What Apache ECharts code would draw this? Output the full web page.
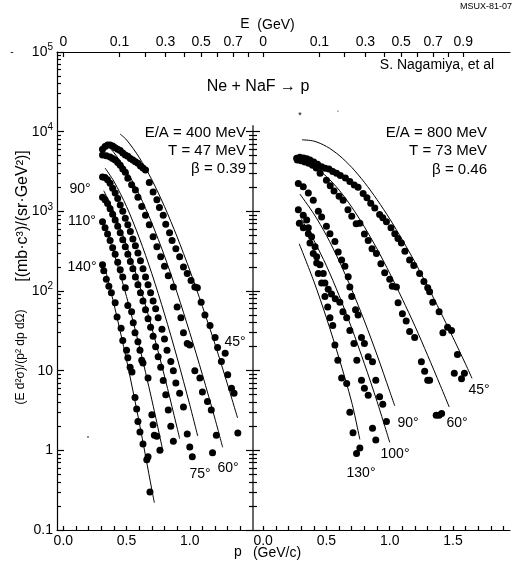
<!DOCTYPE html>
<html><head><meta charset="utf-8">
<script src="https://cdn.jsdelivr.net/npm/echarts@6/dist/echarts.min.js"></script>
<style>html,body{margin:0;padding:0;background:#fff}#c{width:512px;height:564px}</style>
</head><body><div id="c"></div>
<script>
// ---- data: [p (GeV/c), E d2sigma/(p2 dp dOmega)] ----
const left45 = [[0.31,6000],[0.33,6500],[0.35,6800],[0.37,6800],[0.39,6600],[0.41,6300],[0.43,6000],[0.45,5800],[0.47,5400],[0.49,5100],[0.51,4900],[0.53,4600],[0.55,4400],[0.57,4200],[0.59,4000],[0.61,3700],[0.63,3500],[0.65,3300],[0.68,2300],[0.71,1750],[0.74,1400],[0.76,1120],[0.79,890],[0.81,690],[0.84,540],[0.86,430],[0.89,340],[0.92,270],[0.95,200],[0.98,166],[1.01,135],[1.04,112],[1.06,110],[1.09,72],[1.12,50],[1.16,37],[1.2,26],[1.22,19.5],[1.25,13],[1.28,16.5],[1.3,8.9],[1.33,6.0],[1.35,5.2],[1.38,1.65]];
const left60 = [[0.31,5100],[0.34,5000],[0.37,4800],[0.39,4600],[0.41,4400],[0.43,4100],[0.45,3800],[0.47,3400],[0.49,3100],[0.51,2600],[0.54,2150],[0.57,1850],[0.59,1500],[0.62,1150],[0.65,890],[0.68,680],[0.71,480],[0.74,360],[0.77,270],[0.80,205],[0.83,155],[0.87,112],[0.90,63],[0.93,46],[0.95,30],[0.98,22],[1.0,21],[1.04,10],[1.08,8.1],[1.10,5.4],[1.14,4.1],[1.17,3.2],[1.21,1.55],[1.18,0.93]];
const left75 = [[0.31,2700],[0.33,2650],[0.35,2500],[0.37,2250],[0.39,1950],[0.41,1700],[0.43,1450],[0.45,1200],[0.47,1000],[0.49,820],[0.51,680],[0.53,560],[0.55,450],[0.57,370],[0.59,300],[0.61,240],[0.63,190],[0.65,150],[0.67,120],[0.69,95],[0.71,75],[0.73,60],[0.75,46],[0.78,33],[0.80,25],[0.82,18],[0.85,13],[0.87,10],[0.89,7],[0.92,5.2],[0.95,3.5],[0.98,1.6],[1.0,1.1],[1.02,0.83]];
const left90 = [[0.31,1500],[0.33,1400],[0.35,1250],[0.37,1080],[0.39,920],[0.41,780],[0.43,650],[0.45,540],[0.47,440],[0.49,360],[0.51,290],[0.53,235],[0.55,190],[0.57,150],[0.59,120],[0.61,95],[0.63,75],[0.65,58],[0.67,45],[0.69,35],[0.71,27],[0.73,20],[0.75,15],[0.77,11],[0.79,7.5],[0.81,5],[0.83,3.2],[0.85,2.0],[0.87,1.3]];
const left110 = [[0.31,740],[0.33,620],[0.35,520],[0.37,430],[0.39,350],[0.41,290],[0.43,230],[0.45,185],[0.47,150],[0.49,110],[0.51,66],[0.54,55],[0.553,40],[0.567,30],[0.59,23],[0.606,18],[0.62,13.5],[0.63,12.5],[0.67,8.1],[0.70,2.8],[0.71,2.1],[0.72,1.55],[0.74,1.5],[0.764,1.0]];
const left140 = [[0.31,214],[0.32,180],[0.34,140],[0.36,115],[0.38,95],[0.41,71],[0.425,47],[0.457,34],[0.47,24],[0.5,18],[0.51,14.5],[0.528,11],[0.543,9.6],[0.567,4.6],[0.58,3.3],[0.59,2.3],[0.606,1.7],[0.63,1.2],[0.66,0.76],[0.67,0.83],[0.685,0.30]];
const right45 = [[0.265,4630],[0.29,4790],[0.32,4680],[0.345,4570],[0.37,4400],[0.40,4170],[0.43,3890],[0.462,3630],[0.49,3470],[0.52,3390],[0.55,3160],[0.58,3000],[0.61,2820],[0.65,2630],[0.685,2360],[0.72,2140],[0.75,2000],[0.79,1680],[0.82,1480],[0.85,1260],[0.882,1100],[0.92,910],[0.945,830],[0.974,740],[1.01,620],[1.04,525],[1.065,457],[1.092,400],[1.12,316],[1.157,245],[1.19,209],[1.236,166],[1.27,132],[1.30,110],[1.315,98],[1.34,72],[1.39,55],[1.42,30],[1.457,35],[1.488,32],[1.535,16],[1.51,9.3],[1.59,9.3],[1.567,7.9]];
const right60 = [[0.27,4400],[0.30,4300],[0.33,4150],[0.36,4000],[0.39,3800],[0.42,3500],[0.45,3000],[0.50,2450],[0.53,2100],[0.56,1800],[0.60,1550],[0.632,1380],[0.67,1050],[0.70,870],[0.735,700],[0.764,710],[0.80,520],[0.83,430],[0.86,340],[0.895,295],[0.93,220],[0.96,170],[1.00,140],[1.02,115],[1.053,112],[1.066,71],[1.10,52],[1.13,42],[1.157,31],[1.197,26],[1.25,12.9],[1.276,9.8],[1.30,7.6],[1.315,7.6],[1.367,2.75],[1.39,2.75],[1.41,2.9]];
const right90 = [[0.278,2240],[0.317,2040],[0.357,1700],[0.396,1380],[0.436,1000],[0.462,850],[0.50,650],[0.528,525],[0.567,417],[0.593,309],[0.62,245],[0.646,204],[0.672,151],[0.685,112],[0.70,85],[0.73,58],[0.75,50],[0.777,26],[0.80,22],[0.83,15],[0.864,12.9],[0.89,7.6],[0.92,4.7],[0.945,3.8],[0.974,2.3]];
const right100 = [[0.278,1050],[0.317,890],[0.344,780],[0.357,620],[0.383,480],[0.41,360],[0.423,270],[0.449,214],[0.475,166],[0.488,126],[0.514,105],[0.54,92],[0.57,80],[0.606,72],[0.63,55],[0.66,46],[0.685,32],[0.717,22],[0.74,13.5],[0.777,7.6],[0.80,6.0],[0.83,4.9],[0.864,1.9],[0.89,1.35]];
const right130 = [[0.286,710],[0.317,620],[0.357,525],[0.37,400],[0.396,295],[0.423,224],[0.436,166],[0.462,126],[0.488,85],[0.51,63],[0.528,46],[0.55,37],[0.567,21],[0.59,13.5],[0.62,8.1],[0.66,6.9],[0.685,3.0],[0.71,1.66],[0.738,0.91],[0.764,1.07]];
// thermal-fit curves (estimated from the figure)
const fitL45 = [[0.449,9340],[0.5,7890],[0.6,4750],[0.7,2490],[0.8,1150],[0.9,478],[1.0,182],[1.1,64],[1.2,21.4],[1.3,6.6],[1.378,2.55]];
const fitL60 = [[0.37,6170],[0.4,5460],[0.5,3240],[0.6,1630],[0.7,711],[0.8,275],[0.9,95],[1.0,30],[1.1,8.9],[1.2,2.47],[1.26,1.09]];
const fitL75 = [[0.33,3500],[0.4,2380],[0.5,1150],[0.6,467],[0.7,165],[0.8,51.5],[0.9,14.5],[1.0,3.72],[1.063,1.51]];
const fitL90 = [[0.32,1815],[0.4,975],[0.5,374],[0.6,122],[0.7,34.4],[0.8,8.55],[0.9,1.91],[0.92,1.4]];
const fitL110 = [[0.32,706],[0.4,299],[0.5,85],[0.6,20.6],[0.7,4.3],[0.787,0.99]];
const fitL140 = [[0.33,192],[0.4,69],[0.5,13.6],[0.6,2.25],[0.7,0.32],[0.72,0.22]];
const fitR45 = [[0.307,7900],[0.4,7620],[0.5,6530],[0.6,5050],[0.7,3560],[0.8,2310],[0.9,1400],[1.0,804],[1.1,437],[1.2,229],[1.3,114],[1.4,55],[1.5,26],[1.6,12],[1.65,8.0]];
const fitR60 = [[0.4,3660],[0.5,2740],[0.6,1850],[0.7,1130],[0.8,638],[0.9,337],[1.0,167],[1.1,79],[1.2,36],[1.3,15.5],[1.4,6.5],[1.47,3.5]];
const fitR90 = [[0.29,1650],[0.4,931],[0.5,499],[0.6,239],[0.7,104],[0.8,42],[0.9,15.7],[1.0,5.5],[1.04,3.6]];
const fitR100 = [[0.3,809],[0.4,435],[0.5,207],[0.6,88],[0.7,34],[0.8,12.2],[0.9,4.1],[1.0,1.26]];
const fitR130 = [[0.285,392],[0.4,133],[0.5,46],[0.6,14.3],[0.7,4.0],[0.764,1.37]];
// axis tick labels
const yDecades = [0.1,1,10,100,1000,10000,100000];
const pLabelsL = [0,0.5,1.0];
const pLabelsR = [0,0.5,1.0,1.5];
const eLabelsL = [0,0.1,0.3,0.5,0.7];
const eLabelsR = [0,0.1,0.3,0.5,0.7,0.9];
const eTicks = [0,0.1,0.2,0.3,0.4,0.5,0.6,0.7,0.8,0.9];
const dividerTop = 12000;

const M = 0.938;
const pOfE = E => Math.sqrt((E+M)*(E+M)-M*M);
const eOfP = p => Math.sqrt(p*p+M*M)-M;
const FONT = 'Liberation Sans';
const minorY = [];
yDecades.slice(0,-1).forEach(d => { for (let k=2;k<=9;k++) minorY.push(d*k); });
const steps = (a,b,s) => { const r=[]; for (let v=a; v<=b+1e-9; v+=s) r.push(+v.toFixed(3)); return r; };

const chart = echarts.init(document.getElementById('c'), null, {renderer:'canvas'});
const lineC = {color:'#000', width:1.2};
const L = {xmin:-0.05, xmax:1.5}, R = {xmin:-0.08, xmax:1.95};

function xBottom(grid, r, labels, ticks) {
  return {type:'value', gridIndex:grid, position:'bottom', min:r.xmin, max:r.xmax,
    axisLine:{show:true, onZero:false, lineStyle:lineC}, splitLine:{show:false},
    axisTick:{show:true, inside:true, length:4, lineStyle:lineC, customValues:ticks},
    axisLabel:{customValues:labels, formatter:v=>v.toFixed(1), color:'#000', fontSize:14, fontFamily:FONT, margin:4}};
}
function xTop(grid, r, labels, ticks) {
  return {type:'value', gridIndex:grid, position:'top', min:r.xmin, max:r.xmax,
    axisLine:{show:true, onZero:false, lineStyle:lineC}, splitLine:{show:false},
    axisTick:{show:true, inside:true, length:5, lineStyle:lineC, customValues:ticks.map(pOfE)},
    axisLabel:{customValues:labels.map(pOfE), formatter:v=>{const e=eOfP(v); return e<0.01?'0':e.toFixed(1);}, color:'#000', fontSize:14, fontFamily:FONT, margin:3}};
}
function yAx(grid, pos, major, labels, showLine, maxTick) {
  const lim = maxTick || 1e9;
  return {type:'log', logBase:10, gridIndex:grid, position:pos, min:0.1, max:100000,
    axisLine:{show:showLine, onZero:false, lineStyle:lineC}, splitLine:{show:false},
    axisTick:{show:true, inside:true, length:major?7:4, lineStyle:lineC, customValues:(major?yDecades:minorY).filter(v=>v<=lim)},
    axisLabel:labels ? {customValues:yDecades, color:'#000', fontFamily:FONT, margin:4,
      formatter:v=>{const e=Math.round(Math.log10(v)); if(e>=2) return '{b|10}{s|'+e+'}'; if(e===1) return '{b|10}'; if(e===0) return '{b|1}'; return '{b|0.1}';},
      rich:{b:{fontSize:14, fontFamily:FONT, color:'#000'}, s:{fontSize:10, fontFamily:FONT, color:'#000', padding:[0,0,9,0]}}} : {show:false}};
}
function pts(data, xi, yi) {
  return {type:'scatter', data, xAxisIndex:xi, yAxisIndex:yi, symbol:'circle', symbolSize:7,
    itemStyle:{color:'#000', opacity:1}, silent:true, z:3};
}
function fit(data, xi, yi) {
  return {type:'line', data, xAxisIndex:xi, yAxisIndex:yi, smooth:0.3, showSymbol:false,
    lineStyle:{color:'#000', width:1}, silent:true, z:2};
}
function txt(text, x, y, opt) {
  return {type:'text', x, y, style:Object.assign({text, fill:'#000', font:'14px "'+FONT+'"', textAlign:'center', textVerticalAlign:'middle'}, opt||{})};
}

chart.setOption({
  animation:false,
  backgroundColor:'#fff',
  grid:[{left:57, top:52, width:196, height:478}, {left:253, top:52, width:257, height:478}],
  xAxis:[xBottom(0,L,pLabelsL,steps(0,1.4,0.1)), xBottom(1,R,pLabelsR,steps(0,1.9,0.1)),
         xTop(0,L,eLabelsL,eTicks.filter(e=>pOfE(e)<L.xmax)), xTop(1,R,eLabelsR,eTicks)],
  yAxis:[yAx(0,'left',true,true,true), yAx(0,'left',false,false,false),
         yAx(0,'right',true,false,false,dividerTop), yAx(0,'right',false,false,false,dividerTop),
         yAx(1,'left',true,false,false,dividerTop), yAx(1,'left',false,false,false,dividerTop)],
  series:[
    pts(left45,0,0), pts(left60,0,0), pts(left75,0,0), pts(left90,0,0), pts(left110,0,0), pts(left140,0,0),
    fit(fitL45,0,0), fit(fitL60,0,0), fit(fitL75,0,0), fit(fitL90,0,0), fit(fitL110,0,0), fit(fitL140,0,0),
    pts(right45,1,4), pts(right60,1,4), pts(right90,1,4), pts(right100,1,4), pts(right130,1,4),
    fit(fitR45,1,4), fit(fitR60,1,4), fit(fitR90,1,4), fit(fitR100,1,4), fit(fitR130,1,4),
    {type:'line', data:[[R.xmin,0.1],[R.xmin,dividerTop]], xAxisIndex:1, yAxisIndex:4, showSymbol:false,
      lineStyle:{color:'#000', width:1.2}, silent:true, z:4}
  ],
  graphic:[
    txt('E', 245, 24),
    txt('(GeV)', 276, 25),
    txt('p', 238, 552),
    txt('(GeV/c)', 277, 553),
    txt('MSUX-81-07', 486, 7, {font:'9px "'+FONT+'"'}),
    txt('S. Nagamiya, et al', 437, 65),
    txt('Ne + NaF \u2192 p', 258, 87, {font:'16px "'+FONT+'"'}),
    txt('E/A = 400 MeV', 246, 133, {textAlign:'right', font:'15px "'+FONT+'"'}),
    txt('T = 47 MeV', 246, 151, {textAlign:'right', font:'15px "'+FONT+'"'}),
    txt('\u03b2 = 0.39', 246, 169, {textAlign:'right', font:'15px "'+FONT+'"'}),
    txt('E/A = 800 MeV', 487, 133, {textAlign:'right', font:'15px "'+FONT+'"'}),
    txt('T = 73 MeV', 487, 151, {textAlign:'right', font:'15px "'+FONT+'"'}),
    txt('\u03b2 = 0.46', 487, 170, {textAlign:'right', font:'15px "'+FONT+'"'}),
    txt('90\u00b0', 80, 189), txt('110\u00b0', 82, 221), txt('140\u00b0', 82, 267),
    txt('45\u00b0', 235, 342), txt('75\u00b0', 200, 474), txt('60\u00b0', 228, 468),
    txt('45\u00b0', 479, 390), txt('60\u00b0', 457, 423), txt('90\u00b0', 408, 423), txt('100\u00b0', 395, 454), txt('130\u00b0', 361, 473),
    {type:'text', x:23, y:216, rotation:Math.PI/2, style:{text:'[(mb\u00b7c\u00b3)/(sr\u00b7GeV\u00b2)]', fill:'#000', font:'16px "'+FONT+'"', textAlign:'center', textVerticalAlign:'middle'}},
    {type:'text', x:21, y:357, rotation:Math.PI/2, style:{text:'(E d\u00b2\u03c3)/(p\u00b2 dp d\u03a9)', fill:'#000', font:'12px "'+FONT+'"', textAlign:'center', textVerticalAlign:'middle'}},
    txt('-', 12, 52, {font:'10px "'+FONT+'"'}),
    {type:'circle', shape:{cx:88, cy:437, r:0.8}, style:{fill:'#000'}},
    txt('*', 300, 116, {font:'9px "'+FONT+'"'}),
    {type:'circle', shape:{cx:338, cy:111, r:0.6}, style:{fill:'#000'}}
  ]
});
</script></body></html>
